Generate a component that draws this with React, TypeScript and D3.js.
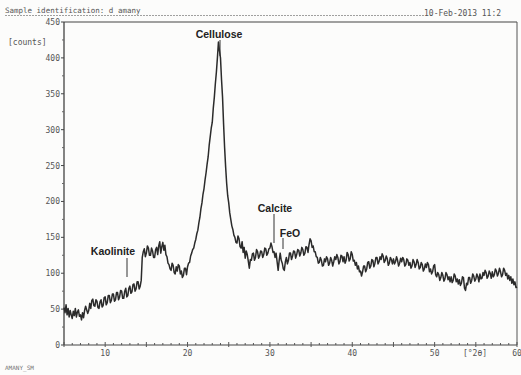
import React from "react";
import * as d3 from "d3";

const START_2THETA = 5;
const STEP_2THETA = 0.125;

// Counts, 8 samples per degree, 5°..60°
const counts: number[] = [
  52, 45, 56, 42, 51, 39, 48, 42,
  37, 47, 41, 51, 39, 46, 49, 40,
  42, 35, 45, 38, 48, 54, 49, 44,
  48, 58, 51, 62, 64, 55, 54, 63,
  61, 52, 51, 60, 63, 53, 55, 66,
  67, 56, 59, 69, 69, 59, 62, 71,
  71, 61, 63, 73, 73, 63, 67, 76,
  75, 65, 65, 75, 79, 67, 69, 79,
  82, 72, 74, 84, 85, 75, 78, 88,
  88, 78, 82, 90, 122, 130, 134, 123,
  128, 138, 135, 125, 125, 135, 131, 122,
  122, 133, 136, 126, 138, 144, 128, 137,
  143, 132, 139, 126, 123, 114, 112, 106,
  104, 114, 111, 101, 99, 109, 103, 112,
  110, 99, 103, 94, 97, 107, 107, 98,
  109, 114, 115, 124, 128, 133, 135, 142,
  147, 155, 160, 170, 178, 190, 198, 210,
  218, 230, 240, 252, 262, 278, 290, 302,
  310, 330, 345, 364, 380, 400, 422, 410,
  400, 370, 345, 308, 275, 248, 225, 208,
  198, 184, 175, 166, 161, 153, 150, 143,
  142, 152, 148, 137, 135, 144, 129, 136,
  121, 131, 126, 117, 107, 119, 118, 127,
  128, 118, 122, 133, 130, 121, 124, 131,
  130, 122, 126, 135, 134, 125, 128, 134,
  135, 142, 137, 129, 130, 122, 128, 116,
  104, 118, 128, 118, 114, 106, 104, 116,
  122, 113, 118, 128, 128, 119, 124, 131,
  130, 121, 126, 133, 132, 124, 128, 136,
  133, 125, 128, 137, 136, 129, 140, 148,
  145, 136, 138, 130, 130, 123, 122, 114,
  115, 122, 118, 110, 111, 120, 116, 123,
  120, 111, 114, 122, 118, 110, 116, 123,
  119, 126, 122, 113, 116, 125, 124, 116,
  123, 114, 118, 129, 126, 117, 120, 130,
  126, 117, 118, 111, 115, 106, 110, 102,
  103, 96, 102, 110, 110, 102, 106, 115,
  116, 107, 110, 119, 118, 109, 114, 122,
  122, 113, 116, 123, 119, 127, 124, 115,
  118, 124, 120, 111, 114, 122, 119, 113,
  120, 113, 116, 123, 118, 110, 114, 121,
  116, 122, 119, 110, 112, 120, 118, 111,
  115, 107, 110, 119, 116, 108, 112, 119,
  115, 106, 108, 115, 112, 103, 106, 113,
  108, 115, 112, 102, 106, 99, 102, 110,
  112, 98, 95, 101, 98, 90, 94, 101,
  97, 89, 92, 101, 98, 91, 95, 88,
  95, 87, 90, 99, 96, 88, 92, 85,
  91, 83, 86, 95, 94, 79, 76, 86,
  84, 94, 94, 86, 90, 99, 96, 89,
  92, 99, 95, 88, 99, 92, 93, 101,
  97, 104, 101, 93, 96, 103, 100, 93,
  102, 95, 98, 106, 103, 96, 100, 107,
  102, 95, 98, 107, 104, 97, 100, 92,
  97, 90, 95, 86, 92, 84, 88, 80,
  81,
];

const yTicks = [0, 50, 100, 150, 200, 250, 300, 350, 400, 450];
const yMinor = [25, 75, 125, 175, 225, 275, 325, 375, 425];
const xLabels = [10, 20, 30, 40, 50];
const xMinor = d3.range(5, 61, 1);

const peakLabels = [
  { name: "Cellulose", tx: 219, ty: 38, lx: 220, y1: 40, y2: 56 },
  { name: "Kaolinite", tx: 113, ty: 255, lx: 127, y1: 258, y2: 277 },
  { name: "Calcite", tx: 275, ty: 212, lx: 274, y1: 214, y2: 243 },
  { name: "FeO", tx: 290, ty: 237, lx: 283, y1: 238, y2: 249 },
];

const titleText = "Sample identification: d amany";
const dateText = "10-Feb-2013 11:2";
const footerText = "AMANY_SM";

export default function App() {
  const x = d3.scaleLinear().domain([5, 60]).range([64, 517]);
  const y = d3.scaleLinear().domain([0, 450]).range([345, 22]);

  const data = counts.map((c, i) => ({ t: START_2THETA + i * STEP_2THETA, c }));
  const line = d3
    .line<{ t: number; c: number }>()
    .x((d) => x(d.t))
    .y((d) => y(d.c));

  const mono = "'DejaVu Sans Mono', monospace";
  const bold = "'Liberation Sans', Arial, sans-serif";
  const grey = "#555";

  return (
    <svg
      width={521}
      height={375}
      style={{ position: "absolute", left: 0, top: 0, background: "#fcfcfb" }}
    >
      {/* header */}
      <text x={5} y={13} fontFamily={mono} fontSize={7.5} fill={grey}>
        {titleText}
      </text>
      <line x1={5} x2={424} y1={15.5} y2={15.5} stroke="#888" strokeWidth={0.8} strokeDasharray="2,1" />
      <text x={424} y={16} fontFamily={mono} fontSize={8} fill={grey}>
        {dateText}
      </text>
      <text x={8} y={45} fontFamily={mono} fontSize={8} fill={grey}>
        [counts]
      </text>

      {/* frame */}
      <line x1={x(5)} x2={x(60)} y1={y(450)} y2={y(450)} stroke="#444" strokeWidth={1.2} />
      <line x1={x(60)} x2={x(60)} y1={y(450)} y2={y(0)} stroke="#555" strokeWidth={1} />
      <line x1={x(5)} x2={x(5)} y1={y(450)} y2={y(0)} stroke="#333" strokeWidth={1.2} />
      <line x1={x(5)} x2={x(60)} y1={y(0)} y2={y(0)} stroke="#444" strokeWidth={1} />

      {/* y ticks */}
      {yTicks.map((v) => (
        <g key={"yt" + v}>
          <line x1={x(5) - 3} x2={x(5)} y1={y(v)} y2={y(v)} stroke="#444" />
          <text x={x(5) - 4} y={y(v) + 3} textAnchor="end" fontFamily={mono} fontSize={8} fill={grey}>
            {v}
          </text>
        </g>
      ))}
      {yMinor.map((v) => (
        <line key={"ym" + v} x1={x(5) - 2} x2={x(5)} y1={y(v)} y2={y(v)} stroke="#666" />
      ))}

      {/* x ticks */}
      {xMinor.map((v) => (
        <line
          key={"xm" + v}
          x1={x(v)}
          x2={x(v)}
          y1={y(0) - (v % 5 === 0 ? 3 : 2)}
          y2={y(0) + (v % 5 === 0 ? 2 : 0)}
          stroke="#555"
        />
      ))}
      {xLabels.map((v) => (
        <text key={"xl" + v} x={x(v)} y={356} textAnchor="middle" fontFamily={mono} fontSize={8} fill={grey}>
          {v}
        </text>
      ))}
      <text x={475} y={356} textAnchor="middle" fontFamily={mono} fontSize={8} fill={grey}>
        [°2θ]
      </text>
      <text x={x(60)} y={356} textAnchor="middle" fontFamily={mono} fontSize={8} fill={grey}>
        60
      </text>
      <text x={5} y={370} fontFamily={mono} fontSize={6} fill="#777">
        {footerText}
      </text>

      {/* trace */}
      <path d={line(data) || ""} fill="none" stroke="#2b2b2b" strokeWidth={1.5} strokeLinejoin="round" />

      {/* phase labels */}
      {peakLabels.map((p) => (
        <g key={p.name}>
          <text x={p.tx} y={p.ty} textAnchor="middle" fontFamily={bold} fontWeight="bold" fontSize={10.5} fill="#222">
            {p.name}
          </text>
          <line x1={p.lx} x2={p.lx} y1={p.y1} y2={p.y2} stroke="#333" strokeWidth={1} />
        </g>
      ))}
    </svg>
  );
}
